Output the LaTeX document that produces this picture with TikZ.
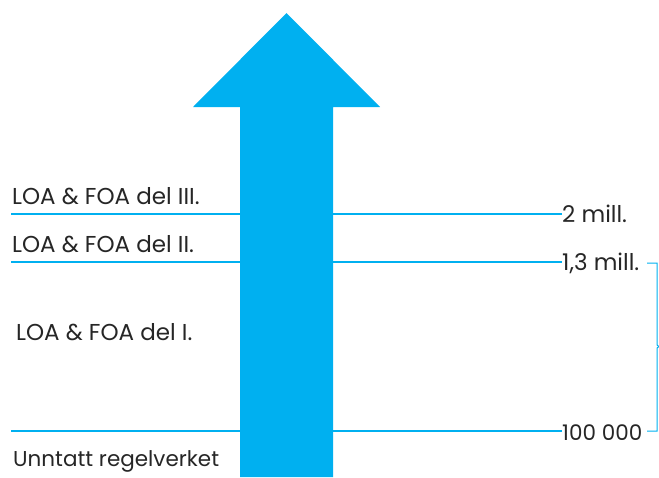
\documentclass[tikz,border=0pt]{standalone}
\usepackage{fontspec}
\setmainfont{Poppins}
\definecolor{ablue}{HTML}{00B0F0}
\definecolor{txt}{HTML}{262626}
\begin{document}
\begin{tikzpicture}[x=1pt,y=-1pt,
  lvl/.style={draw=ablue,line width=1.2pt},
  lab/.style={anchor=base west,inner sep=0pt,text=txt,font=\fontsize{23}{26}\selectfont},
  val/.style={anchor=west,inner sep=0pt,text=txt,font=\fontsize{23}{26}\selectfont},
  small/.style={font=\fontsize{21.5}{26}\selectfont}]
\useasboundingbox (0,0) rectangle (659,477);
% arrow
\fill[ablue] (240,477) -- (240,107) -- (193,107) -- (286.5,13) -- (380,107) -- (333,107) -- (333,477) -- cycle;
% left lines
\coordinate (l3) at (11,214); \coordinate (l2) at (11,262); \coordinate (l1) at (11,431);
\coordinate (a3) at (240,214); \coordinate (a2) at (240,262); \coordinate (a1) at (240,431);
\coordinate (b3) at (333,214); \coordinate (b2) at (333,262); \coordinate (b1) at (333,431);
\draw[lvl] (l3) -- (a3);
\draw[lvl] (l2) -- (a2);
\draw[lvl] (l1) -- (a1);
% right values
\node[val] (v3) at (562,214) {2 mill.};
\node[val] (v2) at (562,263) {1,3 mill.};
\node[val,small] (v1) at (562,433) {100 000};
\draw[lvl] (b3) -- (v3.west |- b3);
\draw[lvl] (b2) -- (v2.west |- b2);
\draw[lvl] (b1) -- (v1.west |- b1);
% labels
\node[lab] (t3) at (12,204) {LOA \& FOA del III.};
\node[lab] (t2) at (12,252) {LOA \& FOA del II.};
\node[lab] (t1) at (16,340) {LOA \& FOA del I.};
\node[lab,small] (t0) at (13,466) {Unntatt regelverket};
% bracket
\coordinate (k1) at (647,263); \coordinate (k2) at (657,263);
\coordinate (k3) at (657,431); \coordinate (k4) at (647,431);
\draw[draw=ablue,line width=1pt] (k1) -- (k2) -- (657,345) -- (659,346.5) -- (657,348) -- (k3) -- (k4);
\end{tikzpicture}
\end{document}
